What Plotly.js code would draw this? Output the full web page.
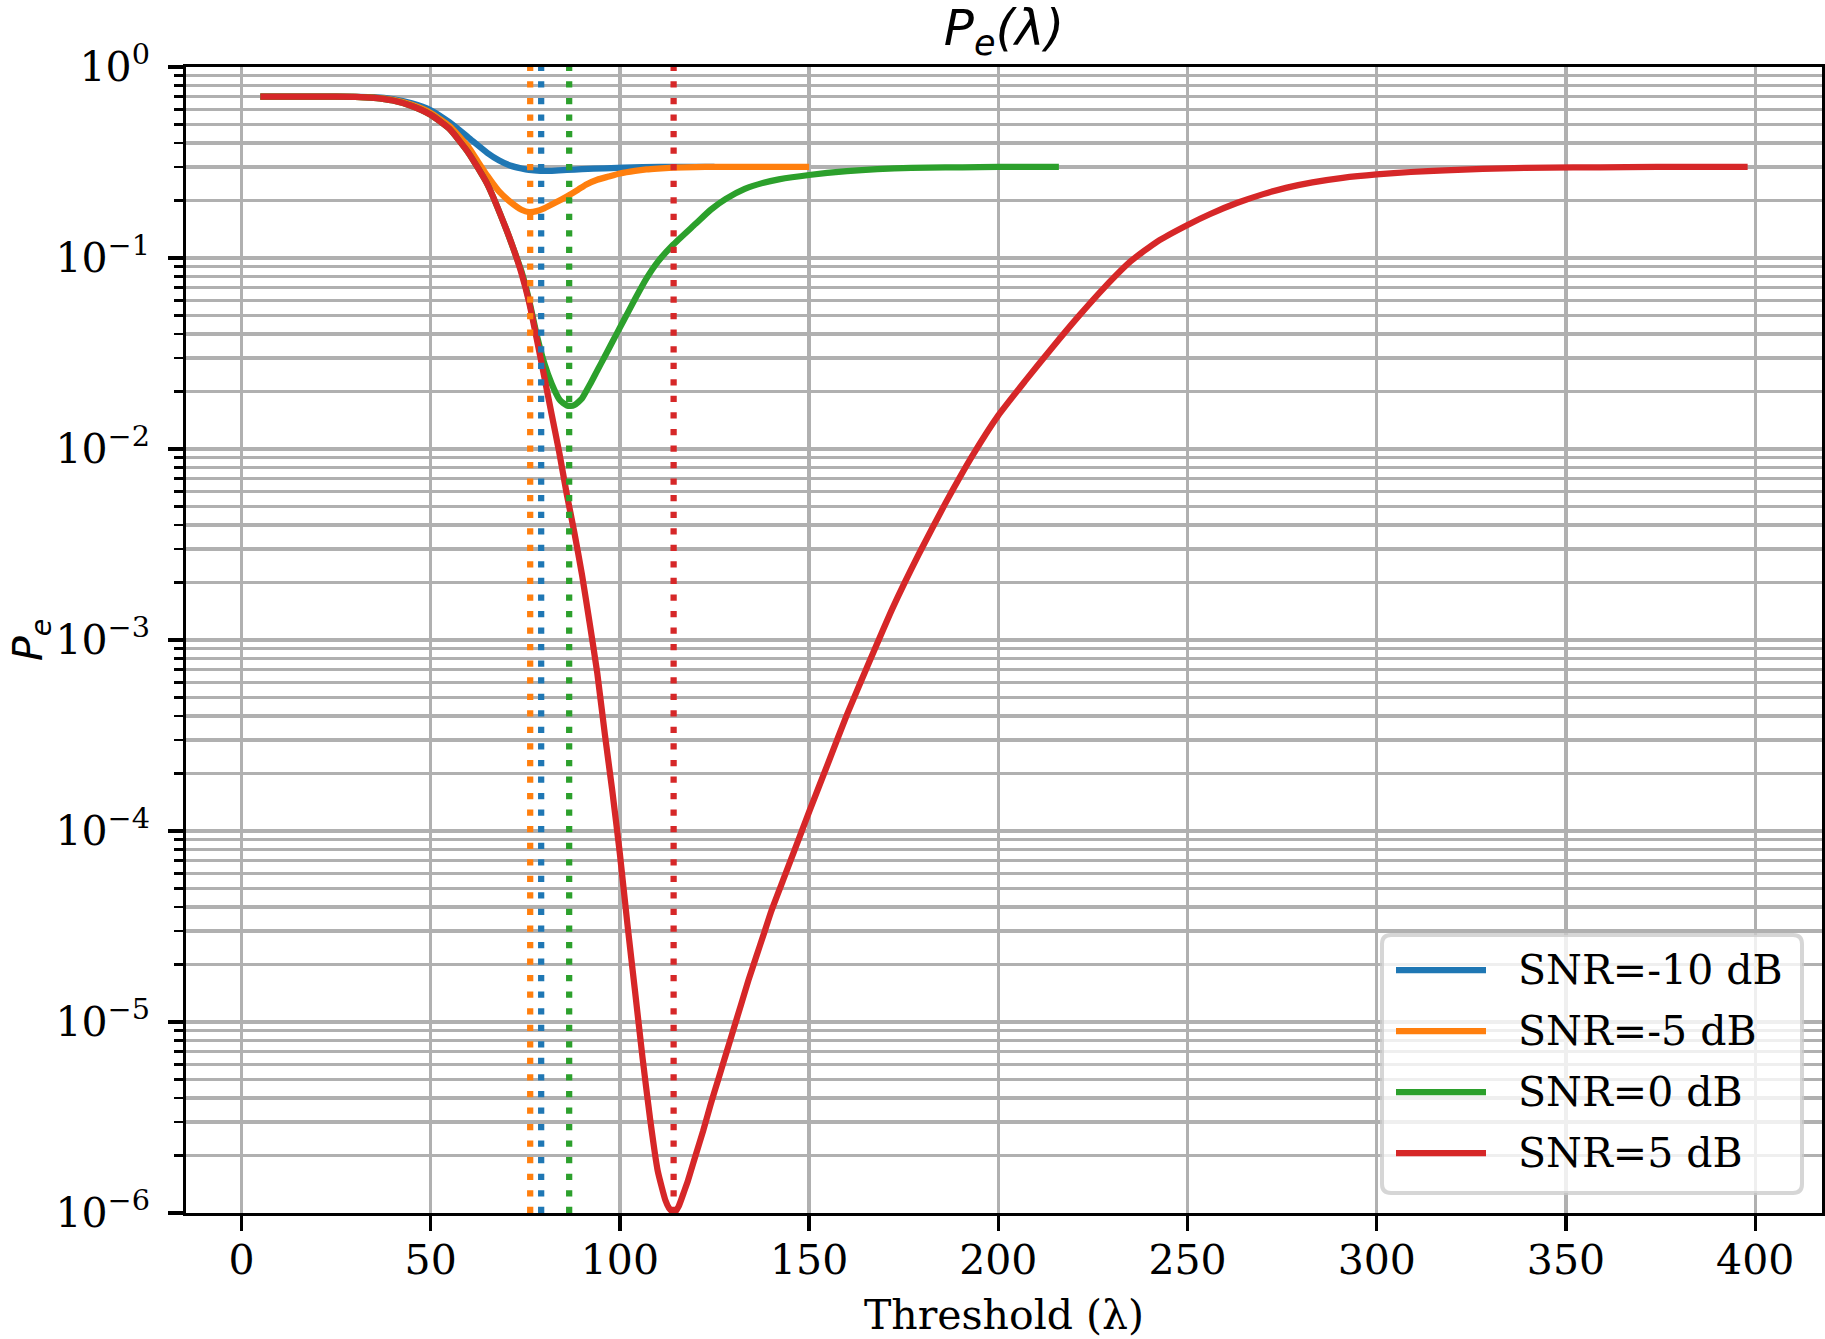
<!DOCTYPE html>
<html>
<head>
<meta charset="utf-8">
<script src="https://cdn.plot.ly/plotly-3.0.1.min.js"></script>
<style>html,body{margin:0;padding:0;background:#fff;}</style>
</head>
<body>
<div id="chart" style="width:1825px;height:1339px;"></div>
<script>
// ---- data ----
const seriesNames = ['SNR=-10 dB', 'SNR=-5 dB', 'SNR=0 dB', 'SNR=5 dB'];
const seriesColors = ['#1f77b4', '#ff7f0e', '#2ca02c', '#d62728'];

const lamBlue = [5,10,20,30,35,40,45,50,55,60,65,68,71,74,76,79,82,86,90,96,106,115,125];
const peBlue  = [0.700,0.700,0.700,0.698,0.695,0.679,0.646,0.594,0.513,0.427,0.355,0.325,0.305,0.294,0.289,0.286,0.286,0.289,0.292,0.295,0.299,0.300,0.300];

const lamOrange = [5,10,20,30,35,40,45,50,55,60,62,65,68,71,74,76,78,80,83,86,89,91,94,97,100,104,107,110,114,120,125,135,150];
const peOrange  = [0.700,0.700,0.700,0.698,0.692,0.673,0.634,0.575,0.490,0.380,0.331,0.269,0.224,0.197,0.179,0.174,0.176,0.182,0.195,0.210,0.228,0.242,0.257,0.267,0.277,0.286,0.291,0.294,0.297,0.299,0.300,0.300,0.300];

const lamGreen = [5,10,20,30,35,40,45,50,55,60,65,70,72,74,76,78,80,82,84,85,86,87,88,89,90,92,94,96,98,100,102,104,107,110,114,120,124,128,133,138,142,150,160,168,177,186,195,205,216];
const peGreen  = [0.700,0.700,0.700,0.698,0.690,0.668,0.625,0.562,0.473,0.355,0.243,0.141,0.110,0.0851,0.0603,0.0398,0.0282,0.0219,0.0182,0.0174,0.0169,0.0168,0.0170,0.0176,0.0184,0.0216,0.0257,0.0305,0.0363,0.0432,0.0513,0.0610,0.0780,0.0955,0.117,0.151,0.179,0.204,0.230,0.248,0.258,0.272,0.285,0.292,0.296,0.298,0.299,0.300,0.300];

const lamRed = [5,10,20,30,35,40,45,50,55,60,65,70,72,74,76,78,80,82,84,86,88,90,92,94,96,98,100,102,104,106,108,110,111,112,113,114.3,115.5,117,118,120,122,124,126,128,130,132,134,136,138,140,143,146,150,155,160,166,172,179,186,193,200,207,214,221,228,235,242,250,256,263,270,276,283,291,300,309,318,328,339,352,366,382,398];
const peRed  = [0.700,0.700,0.700,0.698,0.690,0.668,0.625,0.562,0.473,0.355,0.243,0.141,0.110,0.0832,0.0589,0.0380,0.0240,0.0151,0.00955,0.00575,0.00363,0.00219,0.00123,0.000676,0.000324,0.000162,7.59e-5,3.24e-5,1.45e-5,6.46e-6,3.09e-6,1.66e-6,1.38e-6,1.17e-6,1.06e-6,1.0e-6,1.08e-6,1.30e-6,1.48e-6,2.00e-6,2.69e-6,3.72e-6,5.01e-6,6.76e-6,9.12e-6,1.23e-5,1.66e-5,2.19e-5,2.88e-5,3.80e-5,5.45e-5,7.80e-5,1.26e-4,2.26e-4,4.07e-4,7.76e-4,1.46e-3,2.82e-3,5.19e-3,9.12e-3,0.0150,0.0226,0.0335,0.0490,0.0700,0.0962,0.122,0.149,0.170,0.194,0.216,0.233,0.249,0.263,0.274,0.282,0.288,0.293,0.296,0.298,0.299,0.300,0.300];

// optimal thresholds (dotted vertical lines), same order as series
const optThresholds = [79.2, 76.3, 86.6, 114.2];

// axis ticks and labels
const xTickStart = 0, xTickStep = 50;
const yTickVals = [1e-6, 1e-5, 1e-4, 1e-3, 1e-2, 1e-1, 1];
const yTickText = ['10<sup>−6</sup>','10<sup>−5</sup>','10<sup>−4</sup>','10<sup>−3</sup>','10<sup>−2</sup>','10<sup>−1</sup>','10<sup>0</sup>'];
const titleText = '<i>P<sub>e</sub>(λ)</i>';
const xLabelText = 'Threshold (λ)';
const yLabelText = '<i>P<sub>e</sub></i>';

// ---- build ----
const xs = [lamBlue, lamOrange, lamGreen, lamRed];
const ys = [peBlue, peOrange, peGreen, peRed];
const traces = xs.map((x, i) => ({
  type: 'scatter', mode: 'lines', x: x, y: ys[i], name: seriesNames[i],
  showlegend: false,
  line: {color: seriesColors[i], width: 6.25, shape: 'spline', smoothing: 0.5}
}));

const shapes = optThresholds.map((t, i) => ({
  type: 'line', xref: 'x', yref: 'paper', x0: t, x1: t, y0: 0, y1: 1,
  layer: 'above',
  line: {color: seriesColors[i], width: 6.25, dash: '6.25px,10.3px'}
}));

// ---- legend (matplotlib style: rounded, semi-transparent frame) ----
const PL = 186, PR = 1822, PT = 67, PB = 1213;
const px2x = p => (p - PL) / (PR - PL);
const py2y = p => (PB - p) / (PB - PT);
const box = {x0: 1382, x1: 1802, y0: 935, y1: 1193, r: 9};
function roundedPath(b) {
  const X = px2x, Y = py2y, r = b.r;
  return 'M' + X(b.x0 + r) + ',' + Y(b.y0) +
    ' L' + X(b.x1 - r) + ',' + Y(b.y0) +
    ' Q' + X(b.x1) + ',' + Y(b.y0) + ' ' + X(b.x1) + ',' + Y(b.y0 + r) +
    ' L' + X(b.x1) + ',' + Y(b.y1 - r) +
    ' Q' + X(b.x1) + ',' + Y(b.y1) + ' ' + X(b.x1 - r) + ',' + Y(b.y1) +
    ' L' + X(b.x0 + r) + ',' + Y(b.y1) +
    ' Q' + X(b.x0) + ',' + Y(b.y1) + ' ' + X(b.x0) + ',' + Y(b.y1 - r) +
    ' L' + X(b.x0) + ',' + Y(b.y0 + r) +
    ' Q' + X(b.x0) + ',' + Y(b.y0) + ' ' + X(b.x0 + r) + ',' + Y(b.y0) + ' Z';
}
shapes.push({
  type: 'path', xref: 'paper', yref: 'paper', layer: 'above',
  path: roundedPath(box),
  fillcolor: 'rgba(255,255,255,0.8)',
  line: {color: 'rgba(204,204,204,0.8)', width: 4}
});
const rowY = [970, 1031, 1092, 1153];
const annotations = [];
seriesNames.forEach((n, i) => {
  shapes.push({
    type: 'line', xref: 'paper', yref: 'paper', layer: 'above',
    x0: px2x(1396), x1: px2x(1486), y0: py2y(rowY[i]), y1: py2y(rowY[i]),
    line: {color: seriesColors[i], width: 6.25}
  });
  annotations.push({
    xref: 'paper', yref: 'paper', x: px2x(1516), y: py2y(rowY[i]),
    xanchor: 'left', yanchor: 'middle', showarrow: false, text: n,
    font: {family: 'DejaVu Serif', size: 41, color: 'black'}
  });
});
// y-axis label (placed like matplotlib's ylabel)
annotations.push({
  xref: 'paper', yref: 'paper', x: px2x(2), y: 0.5,
  xanchor: 'left', yanchor: 'middle', textangle: -90, showarrow: false,
  text: yLabelText, font: {family: 'DejaVu Sans', size: 41, color: 'black'}
});

const gridColor = '#b0b0b0';
const layout = {
  width: 1825, height: 1339,
  margin: {l: PL, r: 1825 - PR, t: PT, b: 1339 - PB, pad: 0},
  paper_bgcolor: 'white', plot_bgcolor: 'white',
  font: {family: 'DejaVu Serif', size: 41, color: 'black'},
  showlegend: false,
  title: {
    text: titleText,
    font: {family: 'DejaVu Sans', size: 50, color: 'black'},
    x: 0.5, xref: 'paper', xanchor: 'center',
    y: 1 - 27/1339, yref: 'container', yanchor: 'middle'
  },
  xaxis: {
    range: [-14.65, 417.65], tickmode: 'linear', tick0: xTickStart, dtick: xTickStep,
    showgrid: true, gridcolor: gridColor, gridwidth: 3.3, zeroline: false,
    showline: true, linecolor: 'black', linewidth: 3.3, mirror: true,
    ticks: 'outside', ticklen: 14.6, tickwidth: 3.3, tickcolor: 'black',
    tickfont: {family: 'DejaVu Serif', size: 41, color: 'black'},
    ticklabelstandoff: -6,
    title: {text: xLabelText, font: {family: 'DejaVu Serif', size: 41, color: 'black'}, standoff: 24}
  },
  yaxis: {
    type: 'log', range: [-6, 0], tickmode: 'array', tickvals: yTickVals, ticktext: yTickText,
    showgrid: true, gridcolor: gridColor, gridwidth: 3.3, zeroline: false,
    showline: true, linecolor: 'black', linewidth: 3.3, mirror: true,
    ticks: 'outside', ticklen: 14.6, tickwidth: 3.3, tickcolor: 'black',
    tickfont: {family: 'DejaVu Serif', size: 41, color: 'black'},
    ticklabelstandoff: 10,
    minor: {dtick: 'D1', showgrid: true, gridcolor: gridColor, gridwidth: 3.3,
            ticks: 'outside', ticklen: 8.3, tickwidth: 2.5, tickcolor: 'black'}
  },
  shapes: shapes,
  annotations: annotations,
  hovermode: false
};

Plotly.newPlot('chart', traces, layout, {staticPlot: true, displayModeBar: false});
</script>
</body>
</html>
